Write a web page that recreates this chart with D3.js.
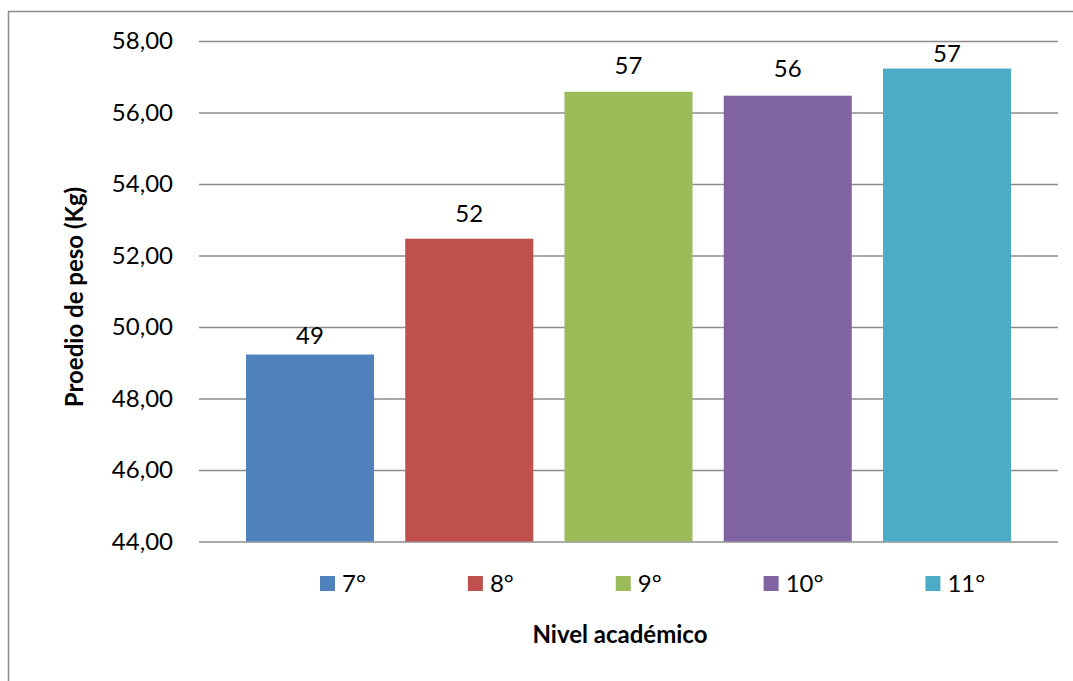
<!DOCTYPE html>
<html lang="es">
<head>
<meta charset="UTF-8">
<title>Promedio de peso por nivel académico</title>
<script src="https://d3js.org/d3.v7.min.js"></script>
<style>
    body { margin: 0; background: #fff; }
    svg { display: block; font-family: Lato, "Open Sans", sans-serif; }
</style>
</head>
<body>
<svg width="1073" height="681"></svg>
<script>
    // data
    const niveles = ["7°", "8°", "9°", "10°", "11°"];
    const pesos = [49.23, 52.47, 56.58, 56.47, 57.23];
    const colores = ["#4F81BD", "#C0504D", "#9BBB59", "#8064A2", "#4BACC6"];
    const yTicks = [44, 46, 48, 50, 52, 54, 56, 58];

    // gap between each value label and its bar (labels were placed by hand in the original)
    const labelGaps = [11, 17, 18, 19, 7];

    const svg = d3.select("svg");

    // frame round the chart (runs off the right and bottom edges)
    svg.append("rect")
        .attr("x", 8.5).attr("y", 11.5)
        .attr("width", 1200).attr("height", 800)
        .attr("fill", "none").attr("stroke", "#8c8c8c").attr("stroke-width", 1.5);

    const plot = {left: 199, right: 1058, top: 41, bottom: 541.5};

    const x = d3.scaleBand()
        .domain(niveles)
        .range([plot.left, plot.right])
        .paddingInner(0.196)
        .paddingOuter(0.295);

    const y = d3.scaleLinear()
        .domain([44, 58])
        .range([plot.bottom, plot.top]);

    const es = d3.formatLocale({decimal: ",", thousands: ".", grouping: [3], currency: ["", "€"]});
    const fmt = es.format(".2f");

    // grid lines
    const grid = svg.append("g")
        .attr("transform", `translate(${plot.left},0)`)
        .call(d3.axisLeft(y).tickValues(yTicks).tickSize(-(plot.right - plot.left)).tickFormat(""));
    grid.select(".domain").remove();
    grid.selectAll("line").attr("stroke", "#8c8c8c").attr("stroke-width", 1.5);

    // tick labels
    const yAxis = svg.append("g")
        .attr("transform", `translate(${plot.left},0)`)
        .call(d3.axisLeft(y).tickValues(yTicks).tickSize(0).tickPadding(26).tickFormat(fmt));
    yAxis.select(".domain").remove();
    yAxis.selectAll("text")
        .attr("font-family", "Lato, 'Open Sans', sans-serif")
        .attr("font-size", 24).attr("fill", "#000");

    // bars
    svg.selectAll(".bar")
        .data(pesos)
        .enter()
        .append("rect")
        .attr("class", "bar")
        .attr("x", (d, i) => x(niveles[i]))
        .attr("width", x.bandwidth())
        .attr("y", d => y(d))
        .attr("height", d => plot.bottom - y(d))
        .attr("fill", (d, i) => colores[i]);

    // value labels
    svg.selectAll(".val")
        .data(pesos)
        .enter()
        .append("text")
        .attr("class", "val")
        .attr("x", (d, i) => x(niveles[i]) + x.bandwidth() / 2)
        .attr("y", (d, i) => y(d) - labelGaps[i])
        .attr("text-anchor", "middle")
        .attr("font-size", 24)
        .text(d => Math.round(d));

    // legend
    const legend = svg.append("g");
    let lx = 320;
    niveles.forEach((n, i) => {
        const g = legend.append("g").attr("transform", `translate(${lx},0)`);
        g.append("rect").attr("x", 0).attr("y", 576).attr("width", 15).attr("height", 15).attr("fill", colores[i]);
        const t = g.append("text").attr("x", 22).attr("y", 591.5).attr("font-size", 24).text(n);
        lx += 22 + t.node().getComputedTextLength() + 102;
    });

    // axis titles
    svg.append("text")
        .attr("x", 620).attr("y", 643)
        .attr("text-anchor", "middle")
        .attr("font-size", 24).attr("font-weight", "bold")
        .text("Nivel académico");

    svg.append("text")
        .attr("transform", "translate(83,297) rotate(-90)")
        .attr("text-anchor", "middle")
        .attr("font-size", 24).attr("font-weight", "bold")
        .text("Proedio de peso (Kg)");
</script>
</body>
</html>
